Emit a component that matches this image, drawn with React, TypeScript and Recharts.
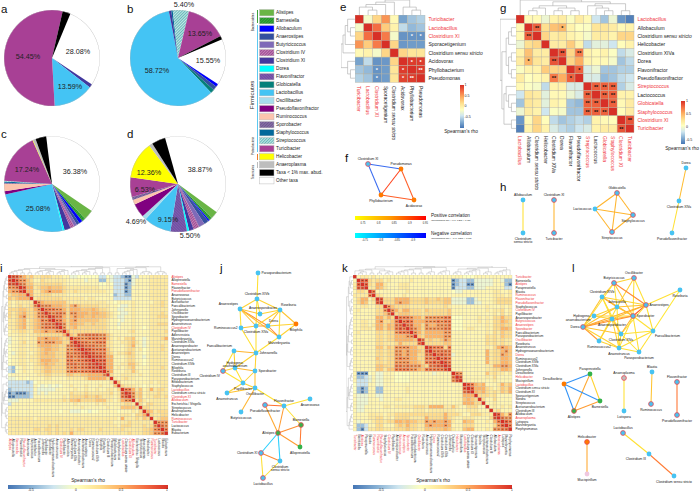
import { PieChart, Pie, ScatterChart, Scatter, LineChart, Line, XAxis, YAxis } from "recharts";

const FONT = "'Liberation Sans', Arial, sans-serif";
const RED = "#f0353b";

// ---- pies (a-d)
const taxa = ["Alistipes", "Barnesiella", "Allobaculum", "Anaerostipes", "Butyricicoccus", "Clostridium IV", "Clostridium XI", "Dorea", "Flavonifractor", "Globicatella", "Lactobacillus", "Oscillibacter", "Pseudoflavonifractor", "Ruminococcus", "Sporobacter", "Staphylococcus", "Streptococcus", "Turicibacter", "Helicobacter", "Anaeroplasma", "Taxa < 1% max. abud.", "Other taxa"];
const taxaColors = ["#6ab545", "url(#hBarn)", "#0000ff", "#34509f", "#7f6ab8", "url(#hClos4)", "#42389e", "#00ffff", "url(#hFlav)", "#05807a", "#44c4f4", "#a6dced", "#800080", "#fcc4ae", "url(#hSpor)", "#03699b", "url(#hStrep)", "#a84095", "#ffff00", "#bdbdbd", "#000000", "#ffffff"];
const OTHER = "Other taxa";
const BLACK = "Taxa < 1% max. abud.";

const pieATaxa = [OTHER, "Clostridium XI", "Lactobacillus", "Turicibacter", BLACK];
const pieAValues = [28.08, 1.2, 13.59, 54.45, 2.68];
const pieBTaxa = [OTHER, "Allobaculum", "Anaerostipes", "Globicatella", "Lactobacillus", "Clostridium XI", "Staphylococcus", "Streptococcus", "Turicibacter", BLACK];
const pieBValues = [15.55, 1.0, 1.3, 1.3, 58.72, 0.8, 0.5, 5.4, 13.65, 1.2];
const pieCTaxa = [OTHER, "Alistipes", "Barnesiella", "Allobaculum", "Anaerostipes", "Butyricicoccus", "Clostridium IV", "Clostridium XI", "Dorea", "Lactobacillus", "Pseudoflavonifractor", "Ruminococcus", "Sporobacter", "Staphylococcus", "Streptococcus", "Turicibacter", "Helicobacter", "Anaeroplasma", BLACK];
const pieCValues = [36.38, 3.4, 1.2, 1.2, 1, 1, 1.4, 2.1, 0.6, 25.08, 1.1, 2.5, 0.3, 0.4, 0.3, 17.24, 0.2, 0.9, 3.6];
const pieDTaxa = [OTHER, "Alistipes", "Barnesiella", "Allobaculum", "Anaerostipes", "Butyricicoccus", "Clostridium IV", "Clostridium XI", "Dorea", "Flavonifractor", "Lactobacillus", "Oscillibacter", "Pseudoflavonifractor", "Ruminococcus", "Sporobacter", "Turicibacter", "Helicobacter", "Anaeroplasma", BLACK];
const pieDValues = [38.87, 2.5, 1, 0.5, 1.6, 2, 2, 1.5, 0.7, 5.5, 9.15, 1.4, 4.69, 1.6, 1, 6.53, 12.36, 1.2, 4.6];
const percentLabels: [string, number, number][] = [
  ["28.08%", 78, 52], ["54.45%", 28, 57], ["13.59%", 70, 87],
  ["5.40%", 184, 5], ["13.65%", 200, 34], ["15.55%", 208, 61], ["58.72%", 157, 71],
  ["36.38%", 75, 172], ["17.24%", 27, 170], ["25.08%", 38, 209],
  ["38.87%", 200, 170], ["12.36%", 149, 173], ["6.53%", 145, 190], ["4.69%", 136, 222], ["9.15%", 168, 220], ["5.50%", 190, 236],
];

// ---- small heatmaps (e, g)
const rowsE = ["Turicibacter", "Lactobacillus", "Clostridium XI", "Sporacetigenium", "Clostridium sensu stricto", "Acidovorax", "Phyllobacterium", "Pseudomonas"];
const redE = ["Turicibacter", "Lactobacillus", "Clostridium XI"];
const valuesE = [
  [1, -0.05, 0.3, 0.6, 0.05, -0.55, -0.4, -0.35],
  [-0.05, 1, 0.75, 0.35, 0.1, -0.3, -0.45, -0.4],
  [0.3, 0.75, 1, 0.7, -0.05, -0.62, -0.62, -0.62],
  [0.6, 0.35, 0.7, 1, 0.3, -0.6, -0.58, -0.58],
  [0.05, 0.1, -0.05, 0.3, 1, 0.3, 0.2, 0.2],
  [-0.55, -0.3, -0.62, -0.6, 0.3, 1, 0.95, 0.95],
  [-0.4, -0.45, -0.62, -0.58, 0.2, 0.95, 1, 0.95],
  [-0.35, -0.4, -0.62, -0.58, 0.2, 0.92, 0.95, 1],
];
const starsE = { "2,6": "*", "2,7": "*", "6,2": "*", "7,2": "*", "5,6": "*", "5,7": "*", "6,5": "*", "7,5": "*", "6,7": "**", "7,6": "**" };

const rowsG = ["Lactobacillus", "Allobaculum", "Clostridium sensu stricto", "Helicobacter", "Clostridium XIVa", "Dorea", "Flavonifractor", "Pseudoflavonifractor", "Streptococcus", "Lactococcus", "Globicatella", "Staphylococcus", "Clostridium XI", "Turicibacter"];
const redG = ["Lactobacillus", "Streptococcus", "Globicatella", "Staphylococcus", "Clostridium XI", "Turicibacter"];
const valuesG = [
  [1, 0.05, 0.05, -0.1, 0.1, 0.15, -0.02, 0.15, 0.05, -0.25, -0.4, -0.1, -0.6, -0.7],
  [0.05, 1, 0.8, 0.25, 0.4, 0.45, 0.1, 0, -0.02, 0.2, 0.2, 0.15, 0.05, 0.1],
  [0.05, 0.8, 1, 0.3, 0.15, 0.2, 0.1, 0.05, -0.05, 0.15, 0.15, 0.1, 0.3, 0.3],
  [-0.1, 0.25, 0.3, 1, 0.15, 0.15, 0.35, 0.1, -0.3, -0.15, -0.15, -0.25, 0.02, 0.1],
  [0.1, 0.4, 0.15, 0.15, 1, 0.85, 0.3, 0.7, 0.1, 0.05, 0.1, -0.02, -0.3, -0.2],
  [0.15, 0.45, 0.2, 0.15, 0.85, 1, 0.3, 0.5, 0.1, 0.05, 0.05, -0.05, -0.4, -0.3],
  [-0.02, 0.1, 0.1, 0.35, 0.3, 0.3, 1, 0.8, -0.2, -0.1, -0.4, -0.4, -0.35, -0.35],
  [0.15, 0, 0.05, 0.1, 0.7, 0.5, 0.8, 1, -0.2, -0.2, -0.45, -0.4, -0.3, -0.25],
  [0.05, -0.02, -0.05, -0.3, 0.1, 0.1, -0.2, -0.2, 1, 0.8, 0.8, 0.8, -0.35, -0.2],
  [-0.25, 0.2, 0.15, -0.15, 0.05, 0.05, -0.1, -0.2, 0.8, 1, 0.8, 0.8, 0.1, 0.1],
  [-0.4, 0.2, 0.15, -0.15, 0.1, 0.05, -0.4, -0.45, 0.8, 0.8, 1, 0.8, 0.05, 0.15],
  [-0.1, 0.15, 0.1, -0.25, -0.02, -0.05, -0.4, -0.4, 0.8, 0.8, 0.8, 1, 0.02, 0.15],
  [-0.6, 0.05, 0.3, 0.02, -0.3, -0.4, -0.35, -0.3, -0.35, 0.1, 0.05, 0.02, 1, 0.85],
  [-0.7, 0.1, 0.3, 0.1, -0.2, -0.3, -0.35, -0.25, -0.2, 0.1, 0.15, 0.15, 0.85, 1],
];
const starsG: Record<string, string> = { "1,2": "**", "2,1": "**", "1,5": "*", "5,1": "*", "4,5": "**", "5,4": "**", "4,7": "**", "7,4": "**", "6,7": "*", "7,6": "*", "12,13": "**", "13,12": "**" };
for (const a of [8, 9, 10, 11]) for (const b of [8, 9, 10, 11]) if (a !== b) starsG[`${a},${b}`] = "**";

// ---- big heatmaps (i, k): lower triangles, one letter per cell
const levels: Record<string, number> = { a: -0.62, b: -0.42, c: -0.26, d: -0.1, "0": 0, "1": 0.08, "2": 0.17, "3": 0.27, "4": 0.37, "5": 0.47, "6": 0.58, "7": 0.68, "8": 0.8, "9": 1 };

const rowsI = ["Alistipes", "Alloprevotella", "Barnesiella", "Flavonifractor", "Pseudoflavonifractor", "Anaerovorax", "Butyricicoccus", "Acetatifactor", "Faecalibacterium", "Johnsonella", "Oscillibacter", "Sporobacter", "Hydrogenoanaerobacterium", "Anaerotruncus", "Clostridium IV", "Papillibacter", "Adlercreutzia", "Marvinbryantia", "Clostridium XIVa", "Anaerosporobacter", "Acetanaerobacterium", "Anaerostipes", "Dorea", "Ruminococcus2", "Clostridium XIVb", "Bilophila", "Roseburia", "Clostridium III", "Parasporobacterium", "Bifidobacterium", "Staphylococcus", "Lactobacillus", "Clostridium sensu stricto", "Clostridium XI", "Allobaculum", "Escherichia / Shigella", "Streptococcus", "Anaeroplasma", "Helicobacter", "Ruminococcus", "Turicibacter", "Lactococcus", "Blautia", "Eubacterium"];
const redI = ["Alistipes", "Barnesiella", "Pseudoflavonifractor", "Clostridium IV", "Lactobacillus", "Clostridium XI", "Allobaculum", "Ruminococcus", "Turicibacter"];
const triI = [
  "9", "89", "889", "6679", "56689", "344559", "4345559", "21222229", "212322369", "3334433569",
  "32345334679", "323563346779", "2234523457689", "22345234567779", "223452345677789", "1223322445655669",
  "11122122333333359", "d11221225565554349", "d1123122 65666 55 33 79", "01122122 455544 33 6789",
  "01122122 345544 33 66789", "0d122112 345443 33 767789", "01122122 344443 33 7767889", "01122122 355544 33 77677889",
  "01122112 345443 33 777677889", "cb012112 234433 33 6676778889", "cb012112 234433 33 67767778889",
  "01111111 223322 22 443344555569", "dd011011 112211 11 2222235555539",
  "cccccbc 0 1111111 1 1 1111111111 1 2 9",
  "ccccccc 1 0d0d0d0 1 1 2111211121 1 1 4 9",
  "bcccccc 1 ddddd11 1 1 1211211211 2 2 1 3 9",
  "abaaabc 1 d1d1111 1 1 3222322222 2 3 1 2 7 9",
  "aabbbbc 1 1111111 2 1 3333433432 2 2 1 2 7 8 9",
  "ddd1111 2 2222222 3 2 4453333444 2 2 1 2 5 6 6 9",
  "c111111 1 1111111 1 1 1211111212 1 1 1 1 2 3 3 2 9",
  "1111111 1 1111111 1 1 1112111111 2 1 1 1 4 4 4 4 3 9",
  "1111111 1 1111110 1 1 ddd00d0011 1 1 1 0 1 1 1 2 1 3 9",
  "1111111 1 1111111 1 1 1111111111 1 1 1 1 2 2 2 1 3 3 5 9",
  "2222222 1 2222222 2 2 2222222222 2 2 2 1 5 2 2 2 3 2 4 3 9",
  "2222222 2 2222222 2 2 2222222222 2 2 1 1 2 2 3 2 2 2 2 2 2 9",
  "2222222 2 2223232 2 2 2222222222 2 2 2 1 3 3 3 2 2 2 3 2 3 6 9",
  "2222222 3 3233232 2 2 3233222232 2 2 2 2 3 2 2 2 2 2 3 3 4 6 7 9",
  "2222222 2 2223232 3 2 5222222222 2 2 2 2 2 2 3 2 2 2 3 3 4 6 6 7 9",
];

const rowsK = ["Turicibacter", "Barnesiella", "Alistipes", "Paraprevotella", "Blautia", "Ruminococcus", "Flavonifractor", "Pseudoflavonifractor", "Staphylococcus", "Clostridium IV", "Papillibacter", "Anaerosporobacter", "Butyricicoccus", "Anaerostipes", "Sporobacter", "Faecalibacterium", "Parasporobacterium", "Oscillibacter", "Roseburia", "Anaerotruncus", "Hydrogenoanaerobacterium", "Dorea", "Ruminococcus2", "Clostridium XIVb", "Clostridium XIVa", "Johnsonella", "Desulfovibrio", "Helicobacter", "Mucispirillum", "Lactobacillus", "Clostridium sensu stricto", "Clostridium XI", "Sporacetigenium", "Sandra", "Streptococcus", "Acetanaerobacterium", "Clostridium III", "Allobaculum", "Anaeroplasma", "Lutispora", "Marvinbryantia", "Porphyromonas"];
const redK = ["Turicibacter", "Alistipes", "Ruminococcus", "Flavonifractor", "Pseudoflavonifractor", "Clostridium IV", "Butyricicoccus", "Anaerostipes", "Sporobacter", "Oscillibacter", "Dorea", "Helicobacter", "Lactobacillus", "Anaeroplasma"];
const triK = [
  "9", "19", "289", "2889", "13329", "222279", "1355139", "13541289", "112211339", "1211113369",
  "11111133469", "111111553539", "1122115633479", "11221255354779", "112221553547879", "1211113323367779",
  "11111133233555669", "111111332335555549", "1111113322235333379", "11111144243666655339",
  "111111332336656554389", "1111113323366565533779", "11111143233676655337779", "111111332336666554377879",
  "1111114433377676664377889", "11111144244777766547777789",
  "1aaa01dd1110000111111d11119", "1bbcd1dd11100001111111111179", "1cccd1dd111000011111111111689",
  "0ccc11dd 111111111111111111111 9",
  "0bab11bb 111111211111111111111 89",
  "0bab11bb 111111211111111111111 789",
  "1ddd11dd 111111111111111111111 5559",
  "1ddd111d 111221111111111111111 45439",
  "1ddd1111 111111111111111111111 555339",
  "1dd111112212 2222333 2555522 42 1 1 333 1 1 9",
  "1dd1111111111111222 1 2222222 111 222 1 1 1 9",
  "111122221 2 2 3333333333 3 3 3 5 3 3 3 2 1 1 3 3 3 2 2 2 9",
  "111122331 2 1 3333 2222 5 3 3 3 3 5 3 2 1 1 2 2 2 1 1 1 1 3 8 9",
  "1d1112332 3 3 5545 44 3 3 6 5 6 5 5 6 5 2 1 1 5 4 4 1 1 1 2 1 5 7 9",
  "1bbc11331 1 1 3435 33 2 2 5 6 5 5 5 6 5 1 1 1 3 3 3 1 1 1 1 1 3 6 8 9",
  "1bac22332 2 2 3334 33 2 2 4 4 4 4 4 5 4 2 1 1 4 5 5 1 1 1 2 1 6 6 7 7 9",
];

// ---- dendrograms, leaves are row numbers
const treeE = [[[[0, [1, 2]], 3], 4], [5, [6, 7]]];
const treeG = [0, [[[[1, 2], 3], [[4, 5], [6, 7]]], [[8, [9, [10, 11]]], [12, 13]]]];
const treeI = [[[[0, 1, 2], [3, 4], [5, 6]], [[7, 8, 9], [10, 11, 12], [13, 14, 15, 16]], [[17, 18, 19], [20, 21, 22], [23, 24], [25, 26], [27, 28]]], [[[29, 30], [31, 32, 33, 34, 35]], [[36, 37], [38, 39]], [[40, 41], [42, 43]]]];
const treeK = [[0, [1, 2, 3], [4, 5]], [[6, 7], [8, 9, 10]], [[11, 12, 13, 14], [15, 16], [17, 18], [19, 20, 21], [22, 23, 24, 25]], [[26, 27, 28], [29, 30, 31, 32, 33], [34, 35, 36], [37, 38, 39, 40, 41]]];

// ---- networks: name, x, y, kind, label side
type NetNode = [string, number, number, string, string];
const netF: NetNode[] = [
  ["Clostridium XI", 368, 164, "br", "a"], ["Pseudomonas", 401, 169, "o", "a"], ["Phyllobacterium", 381, 195, "o", "b"], ["Acidovorax", 414, 200, "o", "b"],
];
const edgesF: [string, string, number][] = [
  ["Clostridium XI", "Pseudomonas", -0.85], ["Clostridium XI", "Phyllobacterium", -0.85], ["Pseudomonas", "Phyllobacterium", 0.93], ["Pseudomonas", "Acidovorax", 0.9], ["Phyllobacterium", "Acidovorax", 0.9],
];
const netH: NetNode[] = [
  ["Allobaculum", 523, 200, "b", "a"], ["Clostridium\nsensu stricto", 523, 233, "b", "b"], ["Clostridium XI", 554, 200, "br", "a"], ["Turicibacter", 554, 233, "br", "b"],
  ["Globicatella", 617, 193, "br", "a"], ["Lactococcus", 595, 209, "b", "l"], ["Staphylococcus", 633, 215, "br", "b"], ["Streptococcus", 612, 232, "br", "b"],
  ["Dorea", 686, 168, "b", "a"], ["Clostridium XIVa", 679, 201, "b", "b"], ["Pseudoflavonifractor", 672, 233, "b", "b"],
];
const edgesH: [string, string, number][] = [
  ["Allobaculum", "Clostridium\nsensu stricto", 0.72], ["Clostridium XI", "Turicibacter", 0.78],
  ["Globicatella", "Lactococcus", 0.78], ["Globicatella", "Staphylococcus", 0.78], ["Globicatella", "Streptococcus", 0.78], ["Lactococcus", "Staphylococcus", 0.78], ["Lactococcus", "Streptococcus", 0.78], ["Staphylococcus", "Streptococcus", 0.78],
  ["Dorea", "Clostridium XIVa", 0.77], ["Clostridium XIVa", "Pseudoflavonifractor", 0.72],
];
const netJ: NetNode[] = [
  ["Parasporobacterium", 258, 273, "b", "r"], ["Clostridium XIVb", 257, 299, "b", "a"], ["Anaerostipes", 240, 309, "b", "al"], ["Anaerosporobacter", 260, 314, "b", "a2"], ["Roseburia", 280, 310, "b", "ar"],
  ["Dorea", 268, 326, "b", "ar"], ["Clostridium XIVa", 256, 326, "b", "b"], ["Ruminococcus2", 241, 328, "b", "l"], ["Bilophila", 296, 324, "o", "b"], ["Marvinbryantia", 279, 337, "b", "b"],
  ["Johnsonella", 256, 353, "b", "r"], ["Faecalibacterium", 234, 351, "b", "al"], ["Hydrogeno-\nanaerobacterium", 235, 368, "b", "a"], ["Clostridium IV", 223, 371, "br", "bl"], ["Sporobacter", 255, 371, "b", "r"],
  ["Papillibacter", 243, 383, "b", "b"], ["Oscillibacter", 255, 388, "b", "b"], ["Anaerotruncus", 227, 393, "b", "b"], ["Butyricicoccus", 241, 412, "b", "b"], ["Flavonifractor", 284, 406, "b", "a"],
  ["Pseudoflavonifractor", 265, 405, "br", "b"], ["Anaerovorax", 310, 399, "b", "b"], ["Barnesiella", 301, 425, "gr", "a"], ["Alistipes", 278, 433, "gr", "l"], ["Alloprevotella", 300, 447, "g", "b"],
  ["Clostridium XI", 261, 453, "br", "l"], ["Clostridium\nsensu stricto", 280, 461, "b", "b"], ["Lactobacillus", 263, 478, "br", "b"],
];
const edgesJ: [string, string, number][] = [
  ["Parasporobacterium", "Clostridium XIVb", 0.72], ["Clostridium XIVb", "Anaerostipes", 0.74], ["Clostridium XIVb", "Roseburia", 0.74], ["Clostridium XIVb", "Anaerosporobacter", 0.72], ["Clostridium XIVb", "Clostridium XIVa", 0.72],
  ["Anaerostipes", "Anaerosporobacter", 0.76], ["Anaerostipes", "Dorea", 0.84], ["Anaerostipes", "Clostridium XIVa", 0.76], ["Anaerostipes", "Ruminococcus2", 0.72], ["Anaerostipes", "Marvinbryantia", 0.76],
  ["Roseburia", "Anaerosporobacter", 0.74], ["Roseburia", "Dorea", 0.76], ["Roseburia", "Marvinbryantia", 0.72], ["Roseburia", "Bilophila", 0.76], ["Roseburia", "Clostridium XIVa", 0.74],
  ["Dorea", "Marvinbryantia", 0.85], ["Dorea", "Bilophila", 0.74], ["Clostridium XIVa", "Dorea", 0.82], ["Clostridium XIVa", "Ruminococcus2", 0.76], ["Clostridium XIVa", "Johnsonella", 0.72],
  ["Ruminococcus2", "Johnsonella", 0.72], ["Marvinbryantia", "Bilophila", 0.74], ["Marvinbryantia", "Johnsonella", 0.72],
  ["Johnsonella", "Faecalibacterium", 0.78], ["Johnsonella", "Hydrogeno-\nanaerobacterium", 0.74], ["Johnsonella", "Sporobacter", 0.74], ["Faecalibacterium", "Hydrogeno-\nanaerobacterium", 0.74], ["Faecalibacterium", "Clostridium IV", 0.72],
  ["Hydrogeno-\nanaerobacterium", "Clostridium IV", 0.74], ["Hydrogeno-\nanaerobacterium", "Sporobacter", 0.78], ["Hydrogeno-\nanaerobacterium", "Papillibacter", 0.72], ["Sporobacter", "Papillibacter", 0.74], ["Sporobacter", "Oscillibacter", 0.76],
  ["Clostridium IV", "Papillibacter", 0.72], ["Papillibacter", "Anaerotruncus", 0.74], ["Papillibacter", "Oscillibacter", 0.74], ["Oscillibacter", "Anaerotruncus", 0.76], ["Oscillibacter", "Butyricicoccus", 0.78], ["Oscillibacter", "Flavonifractor", 0.72],
  ["Flavonifractor", "Anaerovorax", 0.72], ["Flavonifractor", "Pseudoflavonifractor", 0.88], ["Flavonifractor", "Barnesiella", 0.72], ["Flavonifractor", "Alistipes", 0.82],
  ["Pseudoflavonifractor", "Alistipes", 0.8], ["Barnesiella", "Alistipes", 0.84], ["Barnesiella", "Alloprevotella", 0.87], ["Alistipes", "Alloprevotella", 0.82],
  ["Alistipes", "Clostridium XI", -0.72], ["Alistipes", "Clostridium\nsensu stricto", -0.72], ["Clostridium XI", "Clostridium\nsensu stricto", 0.85], ["Clostridium XI", "Lactobacillus", 0.72], ["Clostridium\nsensu stricto", "Lactobacillus", 0.72],
];
const netL: NetNode[] = [
  ["Oscillibacter", 634, 278, "br", "a"], ["Butyricicoccus", 614, 283, "br", "a"], ["Roseburia", 680, 290, "b", "b"], ["Clostridium XIVb", 602, 297, "b", "a"], ["Anaerostipes", 646, 305, "br", "r"],
  ["Johnsonella", 617, 307, "b", "a"], ["Sporobacter", 633, 316, "br", "r"], ["Hydrogeno-\nanaerobacterium", 594, 316, "b", "l"], ["Anaerosporobacter", 612, 319, "b", "b"], ["Dorea", 583, 327, "br", "l"],
  ["Faecalibacterium", 653, 331, "b", "br"], ["Clostridium XIVa", 621, 334, "b", "b"], ["Ruminococcus2", 599, 341, "b", "b"], ["Anaerotruncus", 619, 348, "b", "b"], ["Parasporobacterium", 639, 352, "b", "b"],
  ["Paraprevotella", 590, 374, "g", "a"], ["Desulfovibrio", 564, 384, "o", "al"], ["Barnesiella", 600, 401, "g", "b"], ["Alistipes", 574, 411, "gr", "b"],
  ["Anaeroplasma", 624, 378, "gy", "a"], ["Lutispora", 624, 411, "b", "b"], ["Blautia", 652, 372, "b", "a"], ["Ruminococcus", 651, 404, "br", "b"],
  ["Flavonifractor", 677, 382, "br", "a"], ["Pseudoflavonifractor", 677, 415, "br", "b"], ["Helicobacter", 587, 442, "or", "a"], ["Mucispirillum", 587, 474, "p", "b"],
  ["Lactobacillus", 623, 433, "br", "a"], ["Clostridium III", 649, 454, "b", "bl"], ["Clostridium sensu stricto", 674, 476, "b", "b"],
];
const edgesL: [string, string, number][] = [
  ["Oscillibacter", "Butyricicoccus", 0.74], ["Oscillibacter", "Anaerostipes", 0.72], ["Oscillibacter", "Sporobacter", 0.72], ["Oscillibacter", "Johnsonella", 0.74], ["Butyricicoccus", "Anaerostipes", 0.85], ["Butyricicoccus", "Clostridium XIVb", 0.76],
  ["Butyricicoccus", "Johnsonella", 0.72], ["Butyricicoccus", "Sporobacter", 0.76], ["Butyricicoccus", "Dorea", 0.72], ["Roseburia", "Anaerostipes", 0.72], ["Clostridium XIVb", "Anaerostipes", 0.74], ["Clostridium XIVb", "Johnsonella", 0.78],
  ["Clostridium XIVb", "Sporobacter", 0.78], ["Clostridium XIVb", "Dorea", 0.76], ["Clostridium XIVb", "Anaerosporobacter", 0.72], ["Clostridium XIVb", "Clostridium XIVa", 0.72], ["Anaerostipes", "Johnsonella", 0.76], ["Anaerostipes", "Sporobacter", 0.9],
  ["Anaerostipes", "Anaerosporobacter", 0.76], ["Anaerostipes", "Dorea", 0.8], ["Anaerostipes", "Faecalibacterium", 0.72], ["Anaerostipes", "Clostridium XIVa", 0.72], ["Johnsonella", "Sporobacter", 0.76], ["Johnsonella", "Hydrogeno-\nanaerobacterium", 0.74],
  ["Johnsonella", "Dorea", 0.76], ["Johnsonella", "Ruminococcus2", 0.72], ["Johnsonella", "Anaerotruncus", 0.72], ["Sporobacter", "Hydrogeno-\nanaerobacterium", 0.74], ["Sporobacter", "Anaerosporobacter", 0.78], ["Sporobacter", "Dorea", 0.84],
  ["Sporobacter", "Faecalibacterium", 0.72], ["Sporobacter", "Clostridium XIVa", 0.78], ["Sporobacter", "Parasporobacterium", 0.72], ["Sporobacter", "Anaerotruncus", 0.72], ["Hydrogeno-\nanaerobacterium", "Dorea", 0.74], ["Hydrogeno-\nanaerobacterium", "Anaerosporobacter", 0.74],
  ["Anaerosporobacter", "Dorea", 0.8], ["Anaerosporobacter", "Clostridium XIVa", 0.76], ["Anaerosporobacter", "Ruminococcus2", 0.74], ["Anaerosporobacter", "Anaerotruncus", 0.74], ["Dorea", "Clostridium XIVa", 0.76], ["Dorea", "Ruminococcus2", 0.82], ["Dorea", "Anaerotruncus", 0.74],
  ["Clostridium XIVa", "Anaerotruncus", 0.74], ["Faecalibacterium", "Clostridium XIVa", 0.72], ["Faecalibacterium", "Anaerotruncus", 0.72], ["Faecalibacterium", "Parasporobacterium", 0.72], ["Ruminococcus2", "Anaerotruncus", 0.74], ["Anaerotruncus", "Parasporobacterium", 0.72],
  ["Clostridium XIVa", "Parasporobacterium", 0.72], ["Roseburia", "Faecalibacterium", 0.71],
  ["Paraprevotella", "Desulfovibrio", -0.8], ["Paraprevotella", "Barnesiella", 0.74], ["Paraprevotella", "Alistipes", 0.8], ["Desulfovibrio", "Barnesiella", -0.8], ["Desulfovibrio", "Alistipes", -0.8], ["Barnesiella", "Alistipes", 0.82],
  ["Anaeroplasma", "Lutispora", 0.72], ["Blautia", "Ruminococcus", 0.76], ["Flavonifractor", "Pseudoflavonifractor", 0.88], ["Helicobacter", "Mucispirillum", 0.8],
  ["Lactobacillus", "Clostridium III", 0.72], ["Clostridium III", "Clostridium sensu stricto", 0.87],
];

const positiveTicks = ["0.75", "0.8", "0.85", "0.9", "0.95"];
const negativeTicks = ["-0.75", "-0.8", "-0.85", "-0.9"];
const rhoTicks = ["1", "0.5", "0", "-0.5"];

// ---- helpers
const rhoStops: [number, string][] = [[-0.75, "#4575b4"], [-0.5, "#84aed3"], [-0.25, "#cfe6ef"], [0, "#ffffbf"], [0.25, "#fee090"], [0.5, "#fdae61"], [0.75, "#f46d43"], [1, "#d73027"]];
const hex = (c: string) => [1, 3, 5].map((i) => parseInt(c.slice(i, i + 2), 16));
function rhoColor(v: number, stops = rhoStops) {
  for (let i = 1; i < stops.length; i++) {
    if (v <= stops[i][0]) {
      const t = Math.max(0, (v - stops[i - 1][0]) / (stops[i][0] - stops[i - 1][0]));
      const a = hex(stops[i - 1][1]);
      const b = hex(stops[i][1]);
      return `rgb(${a.map((x, k) => Math.round(x + (b[k] - x) * t)).join(",")})`;
    }
  }
  return stops[stops.length - 1][1];
}
const edgeColor = (rho: number) =>
  rho > 0
    ? rhoColor(rho, [[0.7, "#ffee33"], [0.78, "#ffb52e"], [0.87, "#ff7a33"], [1, "#ff0000"]])
    : rhoColor(-rho, [[0.7, "#22ddff"], [0.85, "#3a6cf0"], [1, "#0000ff"]]);

const triToMatrix = (tri: string[]) => {
  const rows = tri.map((r) => r.replace(/\s/g, "").split("").map((c) => levels[c]));
  return rows.map((r, i) => rows.map((s, j) => (j <= i ? r[j] : s[i])));
};
const cellsOf = (m: number[][]) =>
  m.flatMap((row, r) => row.map((v, c) => ({ x: c + 0.5, y: r + 0.5, v, r, c }))).filter((p) => p.v !== undefined);

function Heatmap({ left, top, w, h, names, red, matrix, stars, starColor, fs, yw, xh, dots }: any) {
  const n = names.length;
  const cw = w / n;
  const ch = h / n;
  const ticks = names.map((_: string, i: number) => i + 0.5);
  const redSet = new Set(red);
  const Words = ({ name }: { name: string }) =>
    name.includes("sensu") ? (
      <>
        Clostridium <tspan fontStyle="italic">sensu stricto</tspan>
      </>
    ) : (
      <>{name}</>
    );
  return (
    <div style={{ position: "absolute", left, top }}>
      <ScatterChart width={w + yw} height={h + xh} margin={{ top: 0, right: 0, bottom: 0, left: 0 }}>
        <XAxis type="number" dataKey="x" domain={[0, n]} ticks={ticks} interval={0} height={xh} axisLine={false} tickLine={false} tickSize={0}
          tick={(p: any) => {
            const name = names[p.payload.value - 0.5];
            return (
              <text x={p.x} y={p.y + 1.5} transform={`rotate(90 ${p.x} ${p.y + 1.5})`} fontSize={fs} fontFamily={FONT} dominantBaseline="central" fill={redSet.has(name) ? RED : "#222"}>
                <Words name={name} />
              </text>
            );
          }} />
        <YAxis type="number" dataKey="y" orientation="right" reversed domain={[0, n]} ticks={ticks} interval={0} width={yw} axisLine={false} tickLine={false} tickSize={0}
          tick={(p: any) => {
            const name = names[p.payload.value - 0.5];
            return (
              <text x={p.x + 1.5} y={p.y} fontSize={fs} fontFamily={FONT} dominantBaseline="central" fill={redSet.has(name) ? RED : "#222"}>
                <Words name={name} />
              </text>
            );
          }} />
        <Scatter data={cellsOf(matrix)} isAnimationActive={false}
          shape={(p: any) => {
            const d = p.payload;
            const star = stars ? stars[`${d.r},${d.c}`] : null;
            return (
              <g>
                <rect x={p.cx - cw / 2} y={p.cy - ch / 2} width={cw} height={ch} fill={rhoColor(d.v)} stroke="#b9b3a0" strokeWidth={dots ? 0.25 : 0.4} />
                {star ? <text x={p.cx} y={p.cy + 2.2} textAnchor="middle" fontSize={5.5} fontWeight="bold" fontFamily={FONT} fill={starColor}>{star}</text> : null}
                {dots && d.r !== d.c && d.v >= 0.55 ? <rect x={p.cx - 0.9} y={p.cy - 0.35} width={1.8} height={0.7} fill="#3a1a12" opacity={0.75} /> : null}
                {dots && d.v <= -0.5 ? <rect x={p.cx - 0.9} y={p.cy - 0.35} width={1.8} height={0.7} fill="#111" opacity={0.7} /> : null}
              </g>
            );
          }} />
      </ScatterChart>
    </div>
  );
}

function layoutTree(node: any, segs: { h: number; p: number; h2: number; p2: number }[]): { p: number; h: number } {
  if (typeof node === "number") return { p: node + 0.5, h: 0 };
  let acc = layoutTree(node[0], segs);
  for (let i = 1; i < node.length; i++) {
    const b = layoutTree(node[i], segs);
    const h = Math.max(acc.h, b.h) + 1;
    segs.push({ h: acc.h, p: acc.p, h2: h, p2: acc.p }, { h, p: acc.p, h2: h, p2: b.p }, { h, p: b.p, h2: b.h, p2: b.p });
    acc = { p: (acc.p + b.p) / 2, h };
  }
  return acc;
}

// one gapped line per tree; side "top" grows upward, side "left" grows leftward
function Dendro({ tree, n, left, top, w, h, side, sw = 0.6 }: any) {
  const segs: any[] = [];
  const root = layoutTree(tree, segs);
  const scale = (v: number) => Math.pow(v / root.h, 0.7);
  const pts: any[] = [];
  segs.forEach((s) => {
    if (side === "top") pts.push({ x: s.p, y: scale(s.h) }, { x: s.p2, y: scale(s.h2) }, { x: s.p2, y: null });
    else pts.push({ x: -scale(s.h), y: s.p }, { x: -scale(s.h2), y: s.p2 }, { x: -scale(s.h2), y: null });
  });
  const xDomain = side === "top" ? [0, n] : [-1, 0];
  const yDomain = side === "top" ? [0, 1] : [0, n];
  return (
    <div style={{ position: "absolute", left, top }}>
      <LineChart width={w} height={h} data={pts} margin={{ top: 0, right: 0, bottom: 0, left: 0 }}>
        <XAxis type="number" dataKey="x" domain={xDomain} hide />
        <YAxis type="number" domain={yDomain} reversed={side !== "top"} hide />
        <Line dataKey="y" stroke="#a9a9a9" strokeWidth={sw} dot={false} connectNulls={false} isAnimationActive={false} />
      </LineChart>
    </div>
  );
}

function Slices({ names, values, left, top, start }: any) {
  const data = names.map((name: string, i: number) => ({ name, value: values[i], fill: taxaColors[taxa.indexOf(name)] }));
  return (
    <div style={{ position: "absolute", left, top }}>
      <PieChart width={100} height={100} margin={{ top: 0, right: 0, bottom: 0, left: 0 }}>
        <Pie data={data} dataKey="value" cx={50} cy={50} innerRadius={0} outerRadius={48} startAngle={90 - start} endAngle={90 - start - 360} stroke="none" isAnimationActive={false} />
        <Pie data={[{ value: 1 }]} dataKey="value" cx={50} cy={50} innerRadius={47.7} outerRadius={48} fill="#b5b5b5" stroke="none" isAnimationActive={false} />
      </PieChart>
    </div>
  );
}

function T({ x, y, size = 5, color = "#111", align = "center", children, style }: any) {
  const tx = align === "center" ? "-50%" : align === "right" ? "-100%" : "0";
  return (
    <div style={{ position: "absolute", left: x, top: y, transform: `translate(${tx},-50%)`, fontSize: size, lineHeight: 1, color, whiteSpace: "nowrap", fontFamily: FONT, ...style }}>
      {children}
    </div>
  );
}

const nodeFills: Record<string, string> = { b: "#47c3f2", br: "#47c3f2", o: "#ff7a00", or: "#ff7a00", g: "#35b24a", gr: "#35b24a", gy: "#bdbdbd", p: "#f0c8e0" };
const labelSpot: Record<string, [number, number, string]> = {
  a: [0, -4.5, "middle"], a2: [3, -5.5, "middle"], b: [0, 6.5, "middle"], l: [-3.5, 1, "end"], r: [3.5, 1, "start"], al: [-2, -4.5, "end"], ar: [1, -4.5, "start"], bl: [-3, 5.5, "end"], br: [2, 6, "start"],
};

function Networks() {
  const panels: [NetNode[], [string, string, number][]][] = [[netF, edgesF], [netH, edgesH], [netJ, edgesJ], [netL, edgesL]];
  const edges = panels.flatMap(([nodes, list]) =>
    list.map(([a, b, rho]) => {
      const pa = nodes.find((m) => m[0] === a)!;
      const pb = nodes.find((m) => m[0] === b)!;
      return { rho, pts: [{ x: pa[1], y: pa[2] }, { x: pb[1], y: pb[2] }] };
    })
  );
  const nodes = panels.flatMap(([list]) => list.map(([name, x, y, kind, side]) => ({ name, x, y, kind, side })));
  return (
    <div style={{ position: "absolute", left: 0, top: 0 }}>
      <ScatterChart width={700} height={492} margin={{ top: 0, right: 0, bottom: 0, left: 0 }}>
        <XAxis type="number" dataKey="x" domain={[0, 700]} hide />
        <YAxis type="number" dataKey="y" domain={[0, 492]} reversed hide />
        {edges.map((e, i) => (
          <Scatter key={i} data={e.pts} line={{ stroke: edgeColor(e.rho), strokeWidth: 1.05 }} shape={() => <g />} isAnimationActive={false} />
        ))}
        <Scatter data={nodes} isAnimationActive={false}
          shape={(p: any) => {
            const d = p.payload;
            const ringed = d.kind.length > 1;
            const [dx, dy, anchor] = labelSpot[d.side];
            const lines = d.name.split("\n");
            return (
              <g>
                <circle cx={p.cx} cy={p.cy} r={2.4} fill={nodeFills[d.kind]} stroke={ringed ? "#ea4a55" : "none"} strokeWidth={0.8} />
                <text x={p.cx + dx} y={p.cy + dy} textAnchor={anchor} fontSize={3.3} fontFamily={FONT} fill="#111">
                  {lines.map((s: string, i: number) => (
                    <tspan key={i} x={p.cx + dx} dy={i ? 3.6 : 0}>{s}</tspan>
                  ))}
                </text>
              </g>
            );
          }} />
      </ScatterChart>
    </div>
  );
}

function Legend() {
  return (
    <svg width={700} height={190} style={{ position: "absolute", left: 0, top: 0 }}>
      <defs>
        <pattern id="hBarn" width="2" height="2" patternUnits="userSpaceOnUse" patternTransform="rotate(45)"><rect width="2" height="2" fill="#3fae3a" /><rect width="0.8" height="2" fill="#1d7f2b" /></pattern>
        <pattern id="hClos4" width="2" height="2" patternUnits="userSpaceOnUse" patternTransform="rotate(45)"><rect width="2" height="2" fill="#c77fb8" /><rect width="0.8" height="2" fill="#8d3f86" /></pattern>
        <pattern id="hFlav" width="2" height="2" patternUnits="userSpaceOnUse" patternTransform="rotate(-45)"><rect width="2" height="2" fill="#7f5cb0" /><rect width="0.6" height="2" fill="#644494" /></pattern>
        <pattern id="hSpor" width="2" height="2" patternUnits="userSpaceOnUse" patternTransform="rotate(45)"><rect width="2" height="2" fill="#8a72a8" /><rect width="0.8" height="2" fill="#66508a" /></pattern>
        <pattern id="hStrep" width="2" height="2" patternUnits="userSpaceOnUse" patternTransform="rotate(45)"><rect width="2" height="2" fill="#c4e8e6" /><rect width="0.9" height="2" fill="#5cb3b5" /></pattern>
      </defs>
      {taxa.map((name, i) => (
        <g key={name}>
          <rect x={259.5} y={9.5 + 8 * i} width={14.5} height={6.4} fill={taxaColors[i]} stroke="#bbb" strokeWidth={0.5} />
          <text x={276} y={12.7 + 8 * i} dominantBaseline="central" fontSize={4.7} fontFamily={FONT} fill="#222">{name}</text>
        </g>
      ))}
    </svg>
  );
}

const Bar = ({ y1, y2, color }: any) => <div style={{ position: "absolute", left: 256.5, top: y1, width: 1.6, height: y2 - y1, background: color }} />;
const Rot = ({ x, y, size, children }: any) => (
  <div style={{ position: "absolute", left: x, top: y, transform: "translate(-50%,-50%) rotate(-90deg)", fontSize: size, lineHeight: 1, whiteSpace: "nowrap", fontFamily: FONT, color: "#222" }}>{children}</div>
);
const gradientOf = (dir: string) => `linear-gradient(${dir}, ${rhoStops.map(([v, c]) => `${c} ${((v + 0.75) / 1.75) * 100}%`).join(", ")})`;

export default function App() {
  const letters: [string, number, number][] = [["a", 1, 10], ["b", 127, 10], ["c", 1, 135], ["d", 127, 135], ["e", 340, 8], ["g", 500, 9], ["f", 345, 159], ["h", 500, 188], ["i", 0, 269], ["j", 220, 269], ["k", 342, 269], ["l", 572, 269]];
  return (
    <div style={{ position: "absolute", left: 0, top: 0, width: 700, height: 492, background: "#fff", overflow: "hidden" }}>
      <Legend />
      <Slices names={pieATaxa} values={pieAValues} left={2} top={8} start={22.5} />
      <Slices names={pieBTaxa} values={pieBValues} left={128} top={8} start={67} />
      <Slices names={pieCTaxa} values={pieCValues} left={2} top={134} start={-7} />
      <Slices names={pieDTaxa} values={pieDValues} left={128} top={134} start={-15.7} />
      {percentLabels.map(([s, x, y]) => <T key={s} x={x} y={y} size={7.2} color="#222">{s}</T>)}

      <Bar y1={10} y2={23} color="#3aa03a" />
      <Bar y1={25} y2={152} color="#5cc8f0" />
      <Bar y1={154} y2={160} color="#f07a28" />
      <Bar y1={162} y2={168} color="#bbbbbb" />
      <Rot x={253} y={22} size={3}>Bacteroidetes</Rot>
      <Rot x={252} y={95} size={6.2}>Firmicutes</Rot>
      <Rot x={253} y={146} size={2.8}>Proteobacteria</Rot>
      <Rot x={253} y={172} size={2.8}>Tenericutes</Rot>

      <Dendro tree={treeE} n={8} left={355} top={0} w={70} h={15} side="top" />
      <Dendro tree={treeE} n={8} left={341} top={15} w={14} h={67.4} side="left" />
      <Heatmap left={355} top={15} w={70} h={67.4} names={rowsE} red={redE} matrix={valuesE} stars={starsE} starColor="#fff" fs={5} yw={75} xh={60} />

      <Dendro tree={treeG} n={14} left={516} top={0} w={118} h={15} side="top" />
      <Dendro tree={treeG} n={14} left={500} top={15} w={16} h={117.6} side="left" />
      <Heatmap left={516} top={15} w={118} h={117.6} names={rowsG} red={redG} matrix={valuesG} stars={starsG} starColor="#111" fs={5} yw={64} xh={58} />

      <Dendro tree={treeI} n={44} left={8} top={266} w={160} h={9} side="top" sw={0.4} />
      <Dendro tree={treeI} n={44} left={1} top={275} w={7} h={160} side="left" sw={0.4} />
      <Heatmap left={8} top={275} w={160} h={160} names={rowsI} red={redI} matrix={triToMatrix(triI)} fs={3.1} yw={50} xh={50} dots />

      <Dendro tree={treeK} n={42} left={353} top={266} w={159} h={9} side="top" sw={0.4} />
      <Dendro tree={treeK} n={42} left={346} top={275} w={7} h={156} side="left" sw={0.4} />
      <Heatmap left={353} top={275} w={159} h={156} names={rowsK} red={redK} matrix={triToMatrix(triK)} fs={3.1} yw={50} xh={50} dots />

      {/* colour bars */}
      <div style={{ position: "absolute", left: 460, top: 85, width: 3.5, height: 43, background: gradientOf("to top") }} />
      {rhoTicks.map((s, i) => <T key={s} x={464.5} y={86 + i * 10.5} size={3.6} align="left" color="#222">{s}</T>)}
      <T x={461} y={132} size={4.8} color="#222">Spearman's rho</T>
      <div style={{ position: "absolute", left: 681, top: 101, width: 4, height: 43, background: gradientOf("to top") }} />
      {rhoTicks.map((s, i) => <T key={s} x={686} y={101.5 + i * 13} size={3.6} align="left" color="#222">{s}</T>)}
      <T x={682} y={148.5} size={4.8} color="#222">Spearman's rho</T>
      <div style={{ position: "absolute", left: 8, top: 485, width: 160, height: 4, background: gradientOf("to right") }} />
      {[31, 76, 121, 167].map((x, i) => <T key={x} x={x} y={491} size={3.2} color="#222">{rhoTicks[3 - i]}</T>)}
      <T x={88} y={481} size={4.8} color="#222">Spearman's rho</T>
      <div style={{ position: "absolute", left: 353, top: 485, width: 159, height: 4, background: gradientOf("to right") }} />
      {[381, 425, 468, 512].map((x, i) => <T key={x} x={x} y={491} size={3.2} color="#222">{rhoTicks[3 - i]}</T>)}
      <T x={433} y={481} size={4.8} color="#222">Spearman's rho</T>

      <div style={{ position: "absolute", left: 355, top: 215.7, width: 71, height: 4.5, background: "linear-gradient(to right, #ffff00, #ff9900, #ff0000)" }} />
      {positiveTicks.map((s, i) => <T key={s} x={363 + i * 15.6} y={224} size={2.6} color="#222">{s}</T>)}
      <T x={431} y={216} size={4.6} align="left" color="#222">Positive correlation</T>
      <T x={431} y={221} size={2.5} align="left" color="#222">(Spearman's rho &gt; 0.7, FDR &lt; 0.05)</T>
      <div style={{ position: "absolute", left: 355, top: 233, width: 71, height: 4.5, background: "linear-gradient(to right, #00ffff, #0080ff, #0000ff)" }} />
      {negativeTicks.map((s, i) => <T key={s} x={365 + i * 16} y={241} size={2.6} color="#222">{s}</T>)}
      <T x={431} y={234} size={4.6} align="left" color="#222">Negative correlation</T>
      <T x={431} y={239} size={2.5} align="left" color="#222">(Spearman's rho &lt; -0.7, FDR &lt; 0.05)</T>

      <Networks />
      {letters.map(([s, x, y]) => <T key={s} x={x} y={y} size={11.5} align="left" color="#111">{s}</T>)}
    </div>
  );
}
